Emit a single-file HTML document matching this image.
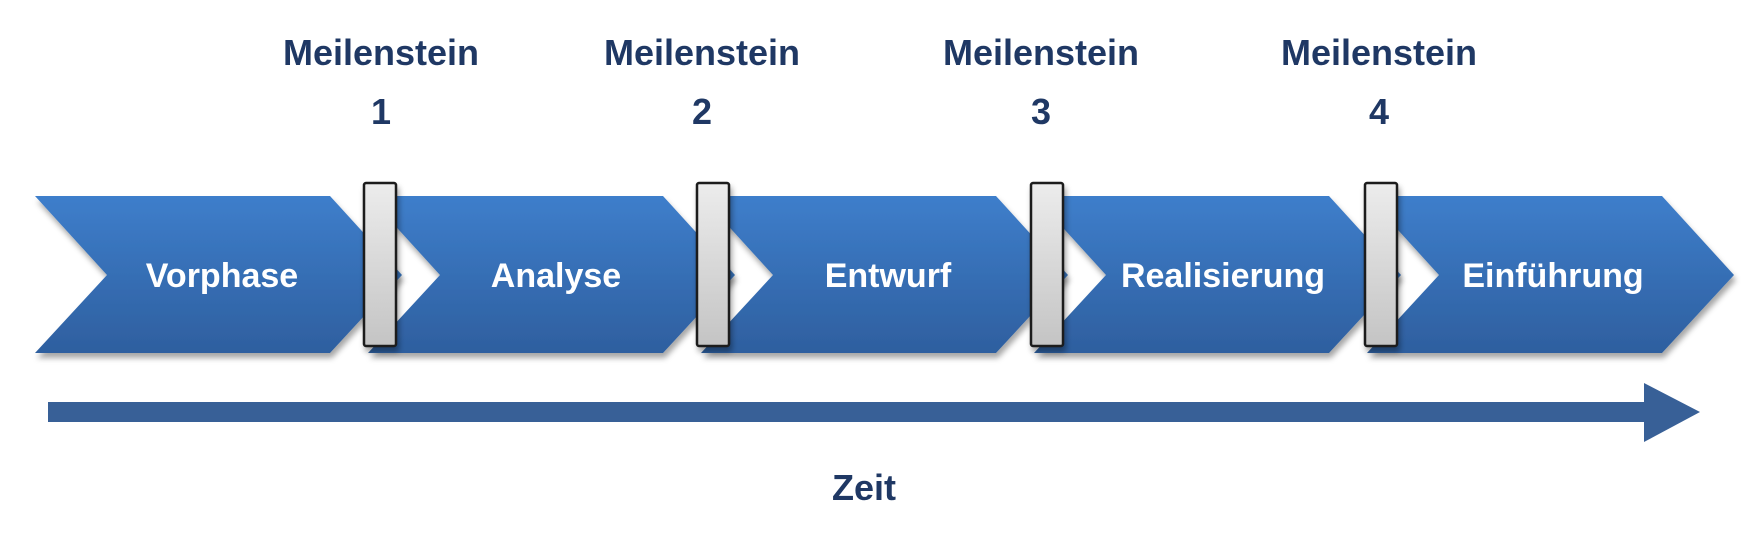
<!DOCTYPE html>
<html><head><meta charset="utf-8"><style>
html,body{margin:0;padding:0;background:#fff;width:1755px;height:534px;overflow:hidden}
</style></head><body>
<svg width="1755" height="534" xmlns="http://www.w3.org/2000/svg" font-family="Liberation Sans, sans-serif" font-weight="bold">
<defs>
<linearGradient id="g" x1="0" y1="0" x2="0" y2="1"><stop offset="0" stop-color="#3e7ecb"/><stop offset="1" stop-color="#2e5f9f"/></linearGradient>
<linearGradient id="b" x1="0" y1="0" x2="0" y2="1"><stop offset="0" stop-color="#ececec"/><stop offset="1" stop-color="#c4c4c4"/></linearGradient>
<filter id="s" x="-10%" y="-10%" width="120%" height="130%"><feDropShadow dx="2" dy="5" stdDeviation="3" flood-color="#000" flood-opacity="0.35"/></filter>
</defs>
<g filter="url(#s)" fill="url(#g)">
<polygon points="35,196 330,196 402,275 330,353 35,353 107,275"/>
<polygon points="368,196 663,196 735,275 663,353 368,353 440,275"/>
<polygon points="701,196 996,196 1068,275 996,353 701,353 773,275"/>
<polygon points="1034,196 1329,196 1401,275 1329,353 1034,353 1106,275"/>
<polygon points="1367,196 1662,196 1734,275 1662,353 1367,353 1439,275"/>
</g>
<g fill="url(#b)" stroke="#1a1a1a" stroke-width="2.5" filter="url(#s)">
<rect x="364" y="183" width="32" height="163" rx="2"/>
<rect x="697" y="183" width="32" height="163" rx="2"/>
<rect x="1031" y="183" width="32" height="163" rx="2"/>
<rect x="1365" y="183" width="32" height="163" rx="2"/>
</g>
<g fill="#fff" font-size="34" text-anchor="middle">
<text x="222" y="287">Vorphase</text>
<text x="556" y="287">Analyse</text>
<text x="888" y="287">Entwurf</text>
<text x="1223" y="287">Realisierung</text>
<text x="1553" y="287">Einführung</text>
</g>
<g fill="#1f3864" font-size="36" text-anchor="middle">
<text x="381" y="65">Meilenstein</text><text x="381" y="124">1</text>
<text x="702" y="65">Meilenstein</text><text x="702" y="124">2</text>
<text x="1041" y="65">Meilenstein</text><text x="1041" y="124">3</text>
<text x="1379" y="65">Meilenstein</text><text x="1379" y="124">4</text>
<text x="864" y="500">Zeit</text>
</g>
<rect x="48" y="402" width="1600" height="20" fill="#386097"/>
<polygon points="1644,383 1700,412 1644,442" fill="#386097"/>
</svg>
</body></html>
